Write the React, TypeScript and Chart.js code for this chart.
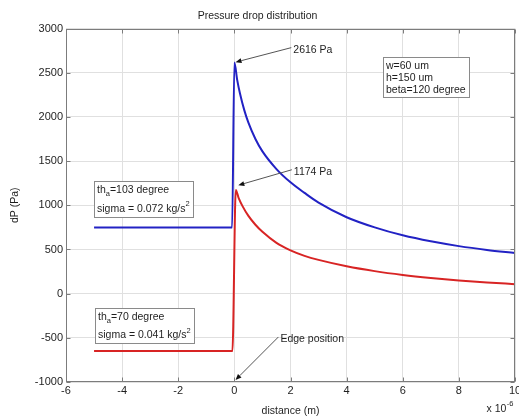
import React, { useEffect, useRef } from "react";
import { Chart, registerables } from "chart.js";

Chart.register(...registerables);

const FONT = '"Liberation Sans", Arial, Helvetica, sans-serif';

// ---- data (distance in 1e-6 m, dP in Pa) ----
const blueX = [-5, -0.08, 0, 0.1, 0.2, 0.35, 0.5, 0.75, 1.0, 1.5, 2.0, 2.5, 3.0, 4.0, 5.0, 6.0, 7.0, 8.0, 9.0, 10.0];
const blueY = [750, 750, 2616, 2420, 2265, 2080, 1935, 1750, 1610, 1410, 1260, 1140, 1030, 865, 750, 660, 592, 538, 495, 460];

const redX = [-5, -0.07, 0.05, 0.15, 0.3, 0.5, 0.75, 1.0, 1.5, 2.0, 2.5, 3.0, 4.0, 5.0, 6.0, 7.0, 8.0, 9.0, 10.0];
const redY = [-650, -650, 1174, 1085, 985, 880, 780, 700, 575, 490, 428, 382, 310, 255, 212, 178, 150, 127, 107];

const xTickValues = [-6, -4, -2, 0, 2, 4, 6, 8, 10];
const yTickValues = [-1000, -500, 0, 500, 1000, 1500, 2000, 2500, 3000];

const titleText = "Pressure drop distribution";
const xTitle = "distance (m)";
const yTitle = "dP (Pa)";
const xExponentBase = "x 10";
const xExponent = "-6";

// arrow annotations: label anchor (data) and arrow tip (data)
const arrowLabels = ["2616 Pa", "1174 Pa", "Edge position"];
const arrowLabelX = [2.1, 2.12, 1.64];
const arrowLabelY = [2762, 1380, -513];
const arrowTipX = [0.04, 0.14, 0.04];
const arrowTipY = [2620, 1227, -977];

// text boxes: top-left anchors in data coords
type Part = { t: string; sub?: boolean; sup?: boolean };
const paramLines: Part[][] = [[{ t: "w=60 um" }], [{ t: "h=150 um" }], [{ t: "beta=120 degree" }]];
const blueBoxLines: Part[][] = [
  [{ t: "th" }, { t: "a", sub: true }, { t: "=103 degree" }],
  [{ t: "sigma = 0.072 kg/s" }, { t: "2", sup: true }],
];
const redBoxLines: Part[][] = [
  [{ t: "th" }, { t: "a", sub: true }, { t: "=70 degree" }],
  [{ t: "sigma = 0.041 kg/s" }, { t: "2", sup: true }],
];
const boxAnchorX = [5.31, -5.02, -4.96];
const boxAnchorY = [2683, 1270, -162];

function toPoints(xs: number[], ys: number[]) {
  return xs.map((x, i) => ({ x, y: ys[i] }));
}

const TEXT_SIZE = 10.5;
const SMALL_SIZE = 7.5;

function partsWidth(ctx: CanvasRenderingContext2D, parts: Part[]) {
  let w = 0;
  for (const p of parts) {
    ctx.font = `${p.sub || p.sup ? SMALL_SIZE : TEXT_SIZE}px ${FONT}`;
    w += ctx.measureText(p.t).width;
  }
  return w;
}

function drawParts(ctx: CanvasRenderingContext2D, parts: Part[], x: number, y: number) {
  let cx = x;
  for (const p of parts) {
    const small = p.sub || p.sup;
    ctx.font = `${small ? SMALL_SIZE : TEXT_SIZE}px ${FONT}`;
    const dy = p.sub ? 3.5 : p.sup ? -4.5 : 0;
    ctx.fillText(p.t, cx, y + dy);
    cx += ctx.measureText(p.t).width;
  }
}

function drawBox(
  ctx: CanvasRenderingContext2D,
  lines: Part[][],
  left: number,
  top: number,
  lineOffsets: number[],
  height: number
) {
  let maxW = 0;
  for (const l of lines) maxW = Math.max(maxW, partsWidth(ctx, l));
  const w = Math.round(maxW + 6);
  const L = Math.round(left) + 0.5;
  const T = Math.round(top) + 0.5;
  ctx.fillStyle = "#ffffff";
  ctx.fillRect(L, T, w, height);
  ctx.strokeStyle = "#8a8a8a";
  ctx.lineWidth = 1;
  ctx.strokeRect(L, T, w, height);
  ctx.fillStyle = "#1e1e1e";
  ctx.textBaseline = "middle";
  ctx.textAlign = "left";
  lines.forEach((l, i) => drawParts(ctx, l, L + 2.5, T + lineOffsets[i]));
}

const decorPlugin = {
  id: "decor",
  beforeDraw(chart: any) {
    const ctx = chart.ctx as CanvasRenderingContext2D;
    ctx.save();
    ctx.fillStyle = "#ffffff";
    ctx.fillRect(0, 0, chart.width, chart.height);
    ctx.restore();
  },
  afterDatasetsDraw(chart: any) {
    const ctx = chart.ctx as CanvasRenderingContext2D;
    const ca = chart.chartArea;
    const xs = chart.scales.x;
    const ys = chart.scales.y;
    ctx.save();
    // axes box
    const L = Math.round(ca.left) + 0.5;
    const R = Math.round(ca.right) - 0.5;
    const T = Math.round(ca.top) + 0.5;
    const B = Math.round(ca.bottom) - 0.5;
    ctx.strokeStyle = "#7c7c7c";
    ctx.lineWidth = 1;
    ctx.strokeRect(L, T, R - L, B - T);
    // inward ticks
    ctx.beginPath();
    for (const v of xTickValues) {
      const px = Math.round(xs.getPixelForValue(v)) + 0.5;
      ctx.moveTo(px, T);
      ctx.lineTo(px, T + 4);
      ctx.moveTo(px, B);
      ctx.lineTo(px, B - 4);
    }
    for (const v of yTickValues) {
      const py = Math.round(ys.getPixelForValue(v)) + 0.5;
      ctx.moveTo(L, py);
      ctx.lineTo(L + 4, py);
      ctx.moveTo(R, py);
      ctx.lineTo(R - 4, py);
    }
    ctx.stroke();

    // x exponent
    ctx.fillStyle = "#1e1e1e";
    ctx.textBaseline = "middle";
    ctx.textAlign = "left";
    ctx.font = `${SMALL_SIZE}px ${FONT}`;
    const expW = ctx.measureText(xExponent).width;
    ctx.font = `${TEXT_SIZE}px ${FONT}`;
    const baseW = ctx.measureText(xExponentBase).width;
    const ex = ca.right - 2 - expW - baseW;
    ctx.fillText(xExponentBase, ex, ca.bottom + 27);
    ctx.font = `${SMALL_SIZE}px ${FONT}`;
    ctx.fillText(xExponent, ex + baseW + 0.5, ca.bottom + 22);

    // arrows with labels
    ctx.font = `${TEXT_SIZE}px ${FONT}`;
    arrowLabels.forEach((txt, i) => {
      const lx = xs.getPixelForValue(arrowLabelX[i]);
      const ly = ys.getPixelForValue(arrowLabelY[i]);
      const tx = xs.getPixelForValue(arrowTipX[i]);
      const ty = ys.getPixelForValue(arrowTipY[i]);
      ctx.fillStyle = "#1e1e1e";
      ctx.textAlign = "left";
      ctx.textBaseline = "middle";
      ctx.fillText(txt, lx, ly);
      const sx = lx - 2;
      const sy = ly - 2;
      const ang = Math.atan2(ty - sy, tx - sx);
      const headLen = 6;
      const headW = 2.5;
      const bx = tx - headLen * Math.cos(ang);
      const by = ty - headLen * Math.sin(ang);
      ctx.strokeStyle = "#555555";
      ctx.lineWidth = 1;
      ctx.beginPath();
      ctx.moveTo(sx, sy);
      ctx.lineTo(bx, by);
      ctx.stroke();
      ctx.fillStyle = "#111111";
      ctx.beginPath();
      ctx.moveTo(tx, ty);
      ctx.lineTo(bx + headW * Math.sin(ang), by - headW * Math.cos(ang));
      ctx.lineTo(bx - headW * Math.sin(ang), by + headW * Math.cos(ang));
      ctx.closePath();
      ctx.fill();
    });

    // text boxes
    const px = boxAnchorX.map((v) => xs.getPixelForValue(v));
    const py = boxAnchorY.map((v) => ys.getPixelForValue(v));
    drawBox(ctx, paramLines, px[0], py[0], [8.2, 20.2, 32.5], 40);
    drawBox(ctx, blueBoxLines, px[1], py[1], [9, 27.3], 36);
    drawBox(ctx, redBoxLines, px[2], py[2], [8.7, 27], 35);

    ctx.restore();
  },
};

export default function App() {
  const canvasRef = useRef<HTMLCanvasElement | null>(null);

  useEffect(() => {
    const canvas = canvasRef.current;
    if (!canvas) return;
    const chart = new Chart(canvas, {
      type: "line",
      data: {
        datasets: [
          {
            label: "th_a=103",
            data: toPoints(blueX, blueY),
            borderColor: "#2222c4",
            borderWidth: 2,
            pointRadius: 0,
            fill: false,
            cubicInterpolationMode: "monotone",
          },
          {
            label: "th_a=70",
            data: toPoints(redX, redY),
            borderColor: "#d82424",
            borderWidth: 2,
            pointRadius: 0,
            fill: false,
            cubicInterpolationMode: "monotone",
          },
        ],
      },
      options: {
        animation: false,
        responsive: false,
        devicePixelRatio: 1,
        parsing: false,
        layout: { padding: { left: 0, right: 4, top: 0, bottom: 0 } },
        plugins: {
          legend: { display: false },
          tooltip: { enabled: false },
          title: {
            display: true,
            text: titleText,
            color: "#1e1e1e",
            font: { family: FONT, size: TEXT_SIZE, weight: "normal" },
            padding: { top: 10, bottom: 6 },
          },
        },
        scales: {
          x: {
            type: "linear",
            min: -6,
            max: 10,
            afterBuildTicks: (s: any) => {
              s.ticks = xTickValues.map((v) => ({ value: v }));
            },
            afterFit: (s: any) => {
              s.height = 36;
              s.paddingRight = 0;
              s.paddingLeft = 0;
            },
            ticks: {
              color: "#1e1e1e",
              font: { family: FONT, size: 11 },
              padding: 2,
              maxRotation: 0,
              autoSkip: false,
              callback: (v: any) => String(v),
            },
            grid: { color: "#e0e0e0", drawTicks: false, lineWidth: 1 },
            border: { display: false },
            title: {
              display: true,
              text: xTitle,
              color: "#1e1e1e",
              font: { family: FONT, size: TEXT_SIZE },
              padding: { top: 0, bottom: 1 },
            },
          },
          y: {
            type: "linear",
            min: -1000,
            max: 3000,
            afterBuildTicks: (s: any) => {
              s.ticks = yTickValues.map((v) => ({ value: v }));
            },
            afterFit: (s: any) => {
              s.width = 66;
            },
            ticks: {
              color: "#1e1e1e",
              font: { family: FONT, size: 11 },
              padding: 3,
              callback: (v: any) => String(v),
            },
            grid: { color: "#e0e0e0", drawTicks: false, lineWidth: 1 },
            border: { display: false },
            title: {
              display: true,
              text: yTitle,
              color: "#1e1e1e",
              font: { family: FONT, size: TEXT_SIZE },
              padding: { top: 9, bottom: 0 },
            },
          },
        },
      },
      plugins: [decorPlugin],
    } as any);
    return () => chart.destroy();
  }, []);

  return (
    <div style={{ position: "fixed", left: 0, top: 0, width: 519, height: 418, background: "#fff" }}>
      <canvas ref={canvasRef} width={519} height={418} style={{ display: "block" }} />
    </div>
  );
}
